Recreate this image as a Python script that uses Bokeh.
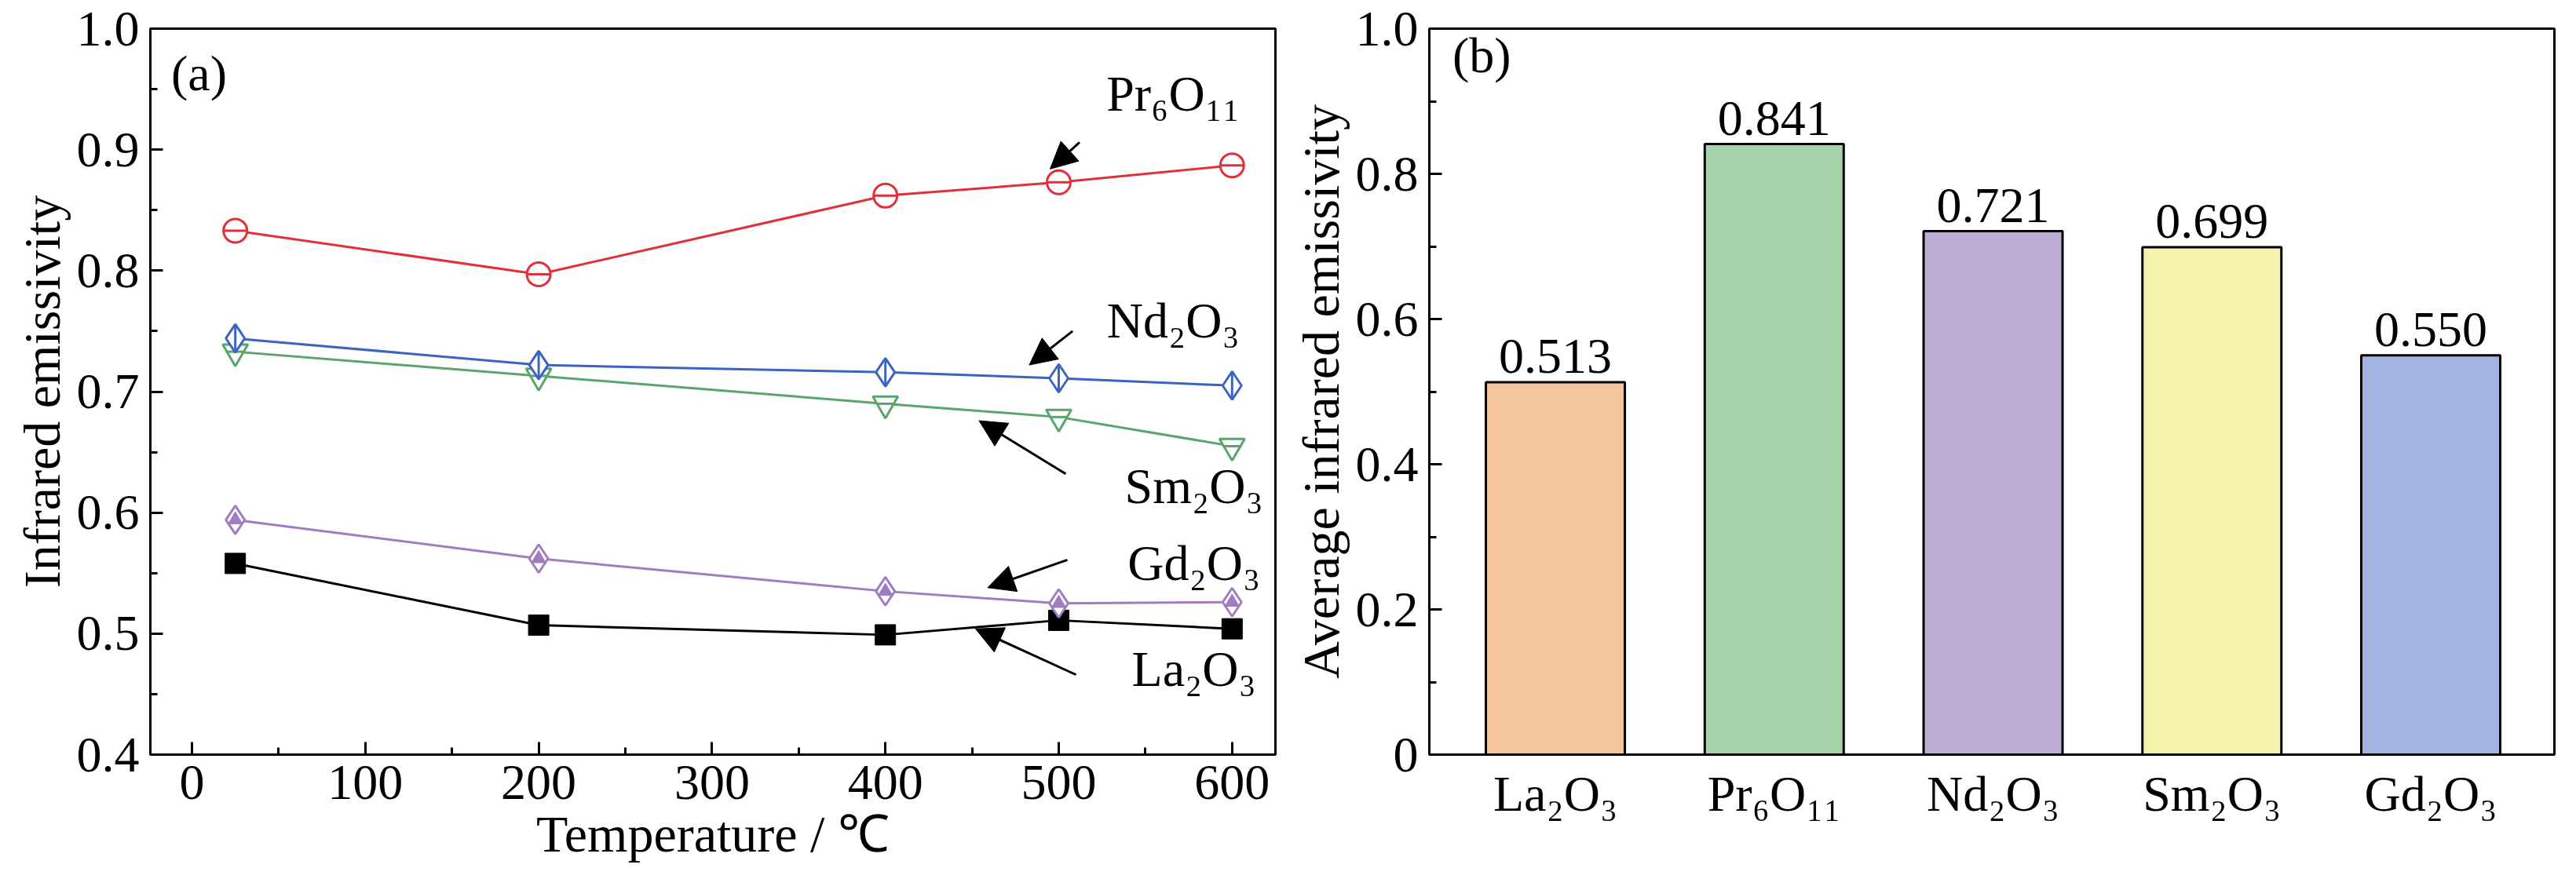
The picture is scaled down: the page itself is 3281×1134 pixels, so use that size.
from bokeh.plotting import figure
from bokeh.layouts import row
from bokeh.models import Range1d, Arrow, NormalHead, Label, FixedTicker, ColumnDataSource
from bokeh.embed import file_html
from bokeh.resources import INLINE

temps = [25, 200, 400, 500, 600]
la = [0.558, 0.507, 0.499, 0.511, 0.504]
gd = [0.594, 0.562, 0.535, 0.525, 0.526]
sm = [0.733, 0.713, 0.690, 0.679, 0.655]
nd = [0.744, 0.722, 0.716, 0.711, 0.705]
pr = [0.833, 0.797, 0.862, 0.873, 0.887]

oxides = ["La₂O₃", "Pr₆O₁₁", "Nd₂O₃", "Sm₂O₃", "Gd₂O₃"]
avg = [0.513, 0.841, 0.721, 0.699, 0.550]
bar_colors = ["#f4c59b", "#a6d4aa", "#bcadd2", "#f3f3ad", "#a2b3df"]

FONT = "Liberation Serif"
TS = "64px"

def style(p):
    p.outline_line_color = "black"
    p.outline_line_width = 3
    p.xgrid.visible = False
    p.ygrid.visible = False
    p.background_fill_color = "white"
    for ax in (p.xaxis[0], p.yaxis[0]):
        ax.axis_line_width = 3
        ax.major_tick_line_width = 3
        ax.minor_tick_line_width = 3
        ax.major_tick_in = 16
        ax.major_tick_out = 0
        ax.minor_tick_in = 9
        ax.minor_tick_out = 0
        ax.major_label_text_font = FONT
        ax.major_label_text_font_size = TS
        ax.major_label_text_color = "black"
        ax.axis_label_text_font = FONT
        ax.axis_label_text_font_size = "66px"
        ax.axis_label_text_font_style = "normal"
        ax.axis_label_text_color = "black"
        ax.major_label_standoff = 14

p1 = figure(output_backend="svg", toolbar_location=None,
            frame_width=1433, frame_height=925,
            min_border_left=191, min_border_right=18, min_border_top=36, min_border_bottom=157,
            x_range=Range1d(-24, 625), y_range=Range1d(0.4, 1.0))
style(p1)
p1.xaxis.ticker = FixedTicker(ticks=[0, 100, 200, 300, 400, 500, 600],
                              minor_ticks=[50, 150, 250, 350, 450, 550])
p1.yaxis.ticker = FixedTicker(ticks=[0.4, 0.5, 0.6, 0.7, 0.8, 0.9, 1.0],
                              minor_ticks=[0.45, 0.55, 0.65, 0.75, 0.85, 0.95])
p1.yaxis.major_label_overrides = {1.0: "1.0", 1: "1.0"}
p1.xaxis.axis_label = "Temperature / ℃"
p1.yaxis.axis_label = "Infrared emissivity"

LW = 3
MS = 32
p1.line(temps, la, color="black", line_width=LW)
p1.scatter(temps, la, marker="square", size=MS - 6, color="black")
cg = "#a07cc0"
p1.line(temps, gd, color=cg, line_width=LW)
p1.scatter(temps, gd, marker="diamond", size=MS + 4, fill_color="white", line_color=cg, line_width=3)
p1.scatter(temps, gd, marker="triangle", size=MS - 14, fill_color=cg, line_color=cg)
cs = "#5aa56c"
p1.line(temps, sm, color=cs, line_width=LW)
p1.scatter(temps, sm, marker="inverted_triangle", size=MS, fill_color="white", line_color=cs, line_width=3)
p1.scatter(temps, sm, marker="dash", size=MS - 8, line_color=cs, line_width=3)
cn = "#3c64c0"
p1.line(temps, nd, color=cn, line_width=LW)
p1.scatter(temps, nd, marker="diamond", size=MS + 4, fill_color="white", line_color=cn, line_width=3)
p1.scatter(temps, nd, marker="dash", angle=1.5708, size=MS + 4, line_color=cn, line_width=3)
cp = "#e0303a"
p1.line(temps, pr, color=cp, line_width=LW)
p1.scatter(temps, pr, marker="circle", size=MS - 2, fill_color="white", line_color=cp, line_width=3)
p1.scatter(temps, pr, marker="dash", size=MS - 2, line_color=cp, line_width=3)

def lab(p, x, y, t, align="center", base="middle", size=TS):
    p.add_layout(Label(x=x, y=y, text=t, text_font=FONT, text_font_size=size,
                       text_align=align, text_baseline=base, text_color="black"))

def arr(p, x0, y0, x1, y1):
    p.add_layout(Arrow(x_start=x0, y_start=y0, x_end=x1, y_end=y1, line_width=3,
                       end=NormalHead(size=34, fill_color="black", line_color="black")))

lab(p1, -12, 0.963, "(a)", align="left")
lab(p1, 566, 0.946, "Pr₆O₁₁")
arr(p1, 512, 0.906, 495, 0.884)
lab(p1, 566, 0.759, "Nd₂O₃")
arr(p1, 508, 0.750, 483, 0.722)
lab(p1, 578, 0.622, "Sm₂O₃")
arr(p1, 504, 0.632, 454, 0.676)
lab(p1, 578, 0.558, "Gd₂O₃")
arr(p1, 505, 0.561, 459, 0.538)
lab(p1, 578, 0.471, "La₂O₃")
arr(p1, 510, 0.466, 452, 0.504)

xs = [0, 1, 2, 3, 4]
src = ColumnDataSource(dict(x=xs, top=avg, color=bar_colors,
                            lbl=["%.3f" % v for v in avg]))
p2 = figure(output_backend="svg", toolbar_location=None,
            frame_width=1433, frame_height=925,
            min_border_left=139, min_border_right=51, min_border_top=36, min_border_bottom=157,
            x_range=Range1d(-0.576, 4.565), y_range=Range1d(0, 1.0))
style(p2)
p2.vbar(x="x", top="top", width=0.635, fill_color="color", line_color="black", line_width=3, source=src)
p2.text(x="x", y="top", text="lbl", source=src, text_font={"value": FONT},
        text_font_size={"value": TS}, text_align="center", text_baseline="bottom", y_offset=-12)
p2.xaxis.ticker = FixedTicker(ticks=xs, minor_ticks=[])
p2.xaxis.major_label_overrides = {i: o for i, o in zip(xs, oxides)}
p2.xaxis.major_tick_in = 0
p2.yaxis.ticker = FixedTicker(ticks=[0, 0.2, 0.4, 0.6, 0.8, 1.0],
                              minor_ticks=[0.1, 0.3, 0.5, 0.7, 0.9])
p2.yaxis.major_label_overrides = {0: "0", 1: "1.0"}
p2.yaxis.axis_label = "Average infrared emissivity"
lab(p2, -0.47, 0.963, "(b)", align="left")

layout = row(p1, p2)
open("out.html", "w").write(file_html(layout, INLINE))
